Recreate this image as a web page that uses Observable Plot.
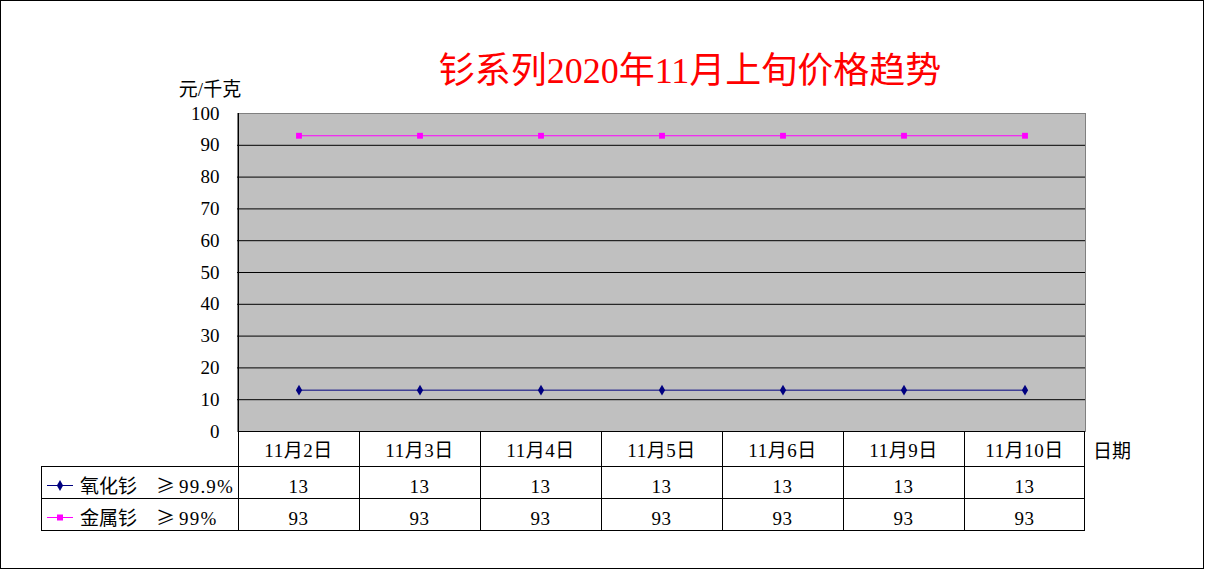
<!DOCTYPE html>
<html><head><meta charset="utf-8">
<script src="https://cdn.jsdelivr.net/npm/d3@7"></script>
<script src="https://cdn.jsdelivr.net/npm/@observablehq/plot@0.6"></script>
<style>
html,body{margin:0;padding:0;background:#fff;}
#chart{position:relative;width:1205px;height:570px;}
svg{display:block;}
</style></head>
<body><div id="chart"></div>
<script>
const dates = ["11月2日","11月3日","11月4日","11月5日","11月6日","11月9日","11月10日"];
const oxideValues = [13,13,13,13,13,13,13];
const metalValues = [93,93,93,93,93,93,93];
const seriesNames = ["氧化钐 ≥99.9%","金属钐 ≥99%"];
const seriesColors = ["#000080","#FF00FF"];
const seriesSymbols = ["diamond","square"];
const yTicks = [0,10,20,30,40,50,60,70,80,90,100];
const title = "钐系列2020年11月上旬价格趋势";
const yLabel = "元/千克";
const xLabel = "日期";

const FONT = "'Liberation Serif','Noto Sans CJK SC',serif";
const rows = [
  ...dates.map((d,i)=>({date:d, value:oxideValues[i], series:seriesNames[0]})),
  ...dates.map((d,i)=>({date:d, value:metalValues[i], series:seriesNames[1]}))
];

const plot = Plot.plot({
  width:1205, height:570,
  marginLeft:237, marginRight:120, marginTop:113, marginBottom:139,
  style:{fontFamily:FONT, background:"white"},
  x:{type:"band", domain:dates, padding:0, axis:null, label:null},
  y:{domain:[0,100], axis:null, label:null},
  color:{domain:seriesNames, range:seriesColors},
  symbol:{domain:seriesNames, range:seriesSymbols},
  marks:[
    Plot.frame({fill:"#C0C0C0", stroke:"#808080"}),
    Plot.ruleY(yTicks.filter(t=>t>0 && t<100), {stroke:"black", strokeWidth:1}),
    Plot.axisY(yTicks, {tickSize:0, tickPadding:18, fontSize:19, fill:"black", label:null, tickFormat:d=>String(d)}),
    Plot.line(rows, {x:"date", y:"value", z:"series", stroke:"series", strokeWidth:1}),
    Plot.dot(rows, {x:"date", y:"value", fill:"series", symbol:"series", r:3.3, stroke:null})
  ]
});
document.getElementById("chart").appendChild(plot);

// overlay: border, title, labels, data table
const svg = d3.select(plot);
const xs = plot.scale("x");
const bw = xs.bandwidth;
const left = xs.apply(dates[0]);
const right = xs.apply(dates[dates.length-1]) + bw;
const yScale = plot.scale("y");
const yTop = yScale.apply(100), yBot = yScale.apply(0);

svg.append("rect").attr("x",0.5).attr("y",0.5).attr("width",1203).attr("height",568)
  .attr("fill","none").attr("stroke","black");
// left axis line
svg.append("line").attr("x1",left+0.5).attr("x2",left+0.5).attr("y1",yTop).attr("y2",yBot).attr("stroke","black");

svg.append("text").attr("x",690).attr("y",83).attr("text-anchor","middle")
  .attr("font-size",36).attr("fill","#FF0000").attr("font-family",FONT).text(title);
svg.append("text").attr("x",210).attr("y",89).attr("dy","0.35em").attr("text-anchor","middle")
  .attr("font-size",19).attr("font-family",FONT).text(yLabel);
svg.append("text").attr("x",1093).attr("y",451).attr("dy","0.35em").attr("text-anchor","start")
  .attr("font-size",19).attr("font-family",FONT).text(xLabel);

// table
const hdrBot = 466, r1Bot = 498, r2Bot = 530, tblLeft = 41;
const g = svg.append("g").attr("stroke","black").attr("stroke-width",1);
const hline = (x1,x2,y)=>g.append("line").attr("x1",x1).attr("x2",x2).attr("y1",y+0.5).attr("y2",y+0.5);
const vline = (x,y1,y2)=>g.append("line").attr("x1",x+0.5).attr("x2",x+0.5).attr("y1",y1).attr("y2",y2);
hline(left, right, yBot);
hline(tblLeft, right, hdrBot);
hline(tblLeft, right, r1Bot);
hline(tblLeft, right, r2Bot);
vline(tblLeft, hdrBot, r2Bot+1);
dates.forEach(d=>vline(Math.round(xs.apply(d)), yBot, r2Bot+1));
vline(Math.round(right)-1, yBot, r2Bot+1);

const t = svg.append("g").attr("font-family",FONT).attr("font-size",19).attr("fill","black");
dates.forEach(d=>{
  t.append("text").attr("x",xs.apply(d)+bw/2).attr("y",(yBot+hdrBot)/2+1.5).attr("dy","0.35em")
    .attr("text-anchor","middle").attr("letter-spacing",0.5).text(d);
});
const seriesVals = [oxideValues, metalValues];
const rowMid = [(hdrBot+r1Bot)/2+4, (r1Bot+r2Bot)/2+4];
seriesVals.forEach((vals,si)=>{
  vals.forEach((v,i)=>{
    t.append("text").attr("x",xs.apply(dates[i])+bw/2).attr("y",rowMid[si]).attr("dy","0.35em")
      .attr("text-anchor","middle").attr("letter-spacing",0.5).text(v);
  });
  // legend key
  const cy = rowMid[si] - 1;
  svg.append("line").attr("x1",47).attr("x2",73).attr("y1",cy+0.5).attr("y2",cy+0.5)
    .attr("stroke",seriesColors[si]).attr("stroke-width",1);
  const sym = d3.symbol().type(si===0?d3.symbolDiamond:d3.symbolSquare).size(si===0?34:36);
  svg.append("path").attr("d",sym()).attr("transform",`translate(60,${cy+0.5})`).attr("fill",seriesColors[si]);
  const [namePart, gradePart] = seriesNames[si].split(" ");
  const txt = t.append("text").attr("x",80).attr("y",rowMid[si]).attr("dy","0.35em").attr("text-anchor","start");
  txt.append("tspan").text(namePart);
  txt.append("tspan").attr("x",156).attr("font-family","'Noto Sans CJK SC'").text(gradePart.slice(0,1));
  txt.append("tspan").attr("x",179).attr("letter-spacing",1.2).text(gradePart.slice(1));
});
</script>
</body></html>
